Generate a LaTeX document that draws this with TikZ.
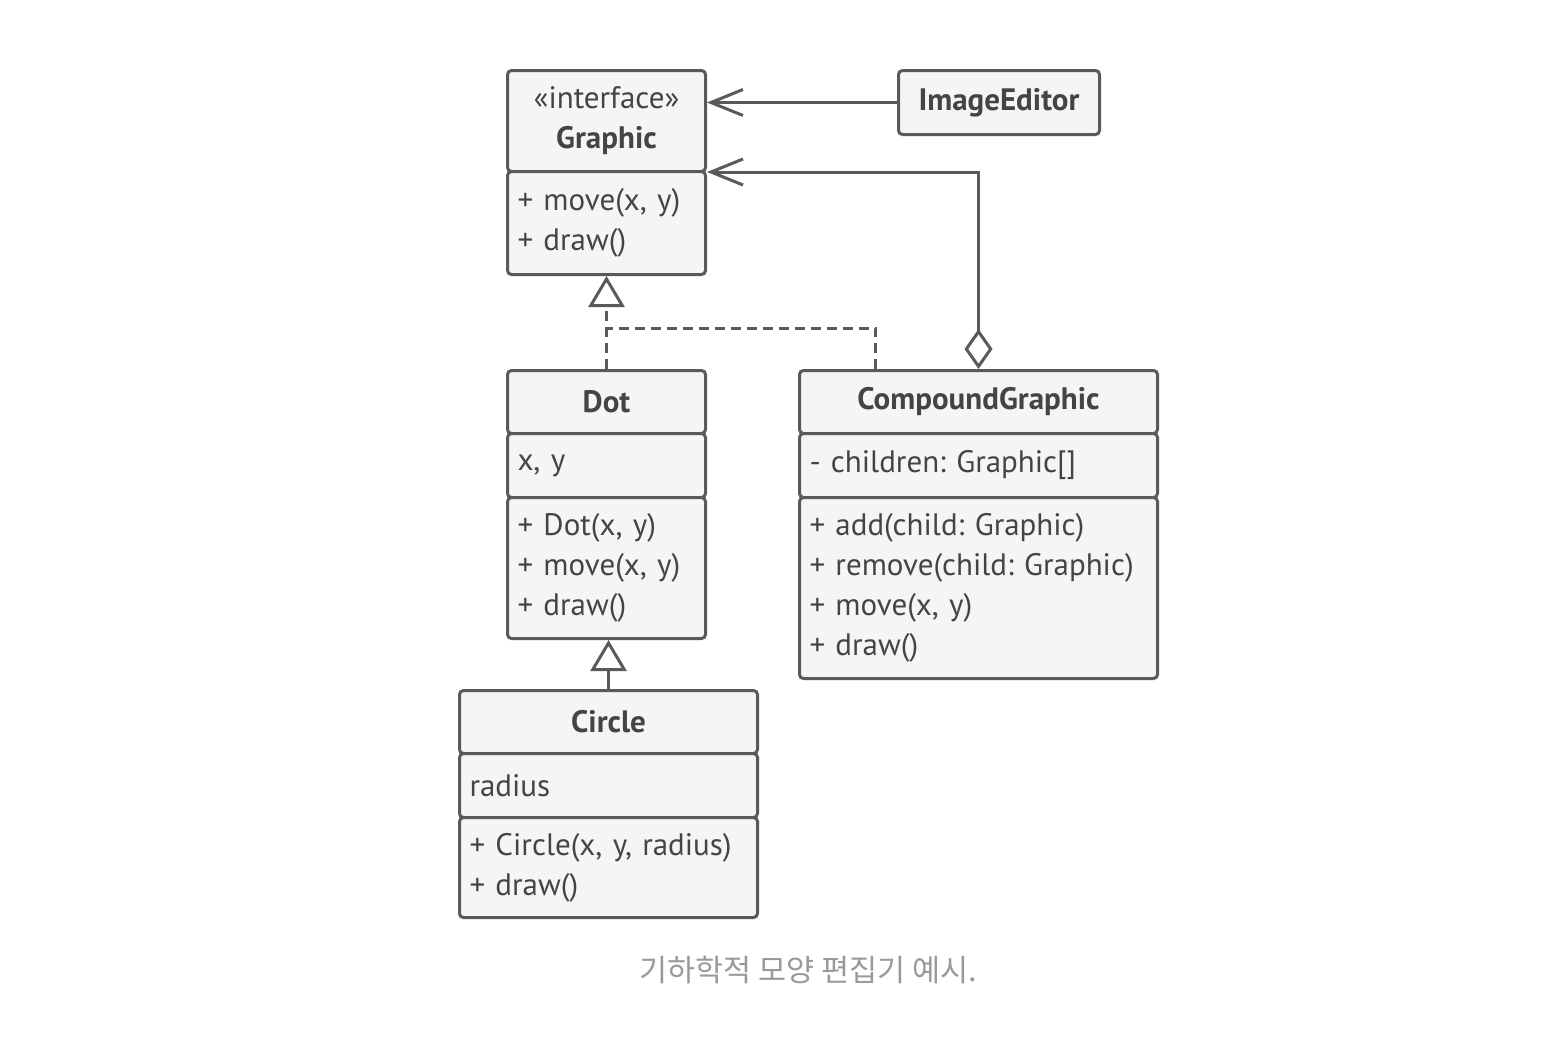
\documentclass[tikz,border=0pt]{standalone}
\usepackage{fontspec}
\setmainfont{PT Sans}
\newfontfamily\krfont{Noto Sans CJK KR}
\usetikzlibrary{arrows.meta}
\definecolor{linecol}{HTML}{5A5A5A}
\definecolor{fillcol}{HTML}{F5F5F5}
\definecolor{textcol}{HTML}{444444}
\definecolor{capcol}{HTML}{999999}
\frenchspacing

\begin{document}
\begin{tikzpicture}[x=1pt,y=-1pt,
    box/.style={draw=linecol, fill=fillcol, line width=3pt, rounded corners=4pt,
      anchor=north west, inner xsep=10pt, inner ysep=0pt, text=textcol,
      font=\fontsize{31pt}{40pt}\selectfont},
    head/.style={box, align=center},
    part/.style={box, align=left},
    link/.style={draw=linecol, line width=3pt},
    barb/.tip={Straight Barb[length=32pt, width=26pt, line width=3pt]},
    hollow/.tip={Triangle[open, length=31pt, width=36pt, fill=white, line width=3pt]},
    agg/.tip={Diamond[open, length=40pt, width=28pt, fill=white, line width=3pt]}]
    \useasboundingbox (0,0) rectangle (1564,1050);

    % Graphic
    \node[head, text width=178pt, minimum height=101pt] (graphichead) at (506,69)
      {«interface»\\\textbf{Graphic}};
    \node[part, text width=178pt, minimum height=103pt] (graphicops) at (506,170)
      {+ move(x, y)\\+ draw()};

    % ImageEditor
    \node[head, text width=181pt, minimum height=64pt] (editor) at (897,69)
      {\textbf{ImageEditor}};

    % Dot
    \node[head, text width=178pt, minimum height=63pt] (dothead) at (506,369) {\textbf{Dot}};
    \node[part, text width=178pt, minimum height=64pt] (dotattr) at (506,432) {x, y};
    \node[part, text width=178pt, minimum height=141pt] (dotops) at (506,496)
      {+ Dot(x, y)\\+ move(x, y)\\+ draw()};

    % CompoundGraphic
    \node[head, text width=338pt, minimum height=63pt] (comphead) at (798,369)
      {\textbf{CompoundGraphic}};
    \node[part, text width=338pt, minimum height=64pt] (compattr) at (798,432)
      {- children: Graphic[]};
    \node[part, text width=338pt, minimum height=181pt] (compops) at (798,496)
      {+ add(child: Graphic)\\+ remove(child: Graphic)\\+ move(x, y)\\+ draw()};

    % Circle
    \node[head, text width=278pt, minimum height=63pt] (circlehead) at (458,689)
      {\textbf{Circle}};
    \node[part, text width=278pt, minimum height=64pt] (circleattr) at (458,752) {radius};
    \node[part, text width=278pt, minimum height=100pt] (circleops) at (458,816)
      {+ Circle(x, y, radius)\\+ draw()};

    % links
    \coordinate (join) at (605,328);
    \draw[link, -barb] (editor.west) -- (editor.west -| graphichead.east);
    \draw[link, agg-barb] (comphead.north) |- ([yshift=-2pt]graphicops.north east);
    \draw[link, dash pattern=on 10pt off 6pt] ([xshift=-103pt]comphead.north) |- (join);
    \draw[link, dash pattern=on 10pt off 6pt, -hollow] (dothead.north) -- (graphicops.south);
    \draw[link, -hollow] (circlehead.north) -- (circlehead.north |- dotops.south);

    \node[text=capcol, font=\krfont\fontsize{30.5pt}{36pt}\selectfont] (caption) at (808,970)
      {기하학적 모양 편집기 예시.};
\end{tikzpicture}
\end{document}
